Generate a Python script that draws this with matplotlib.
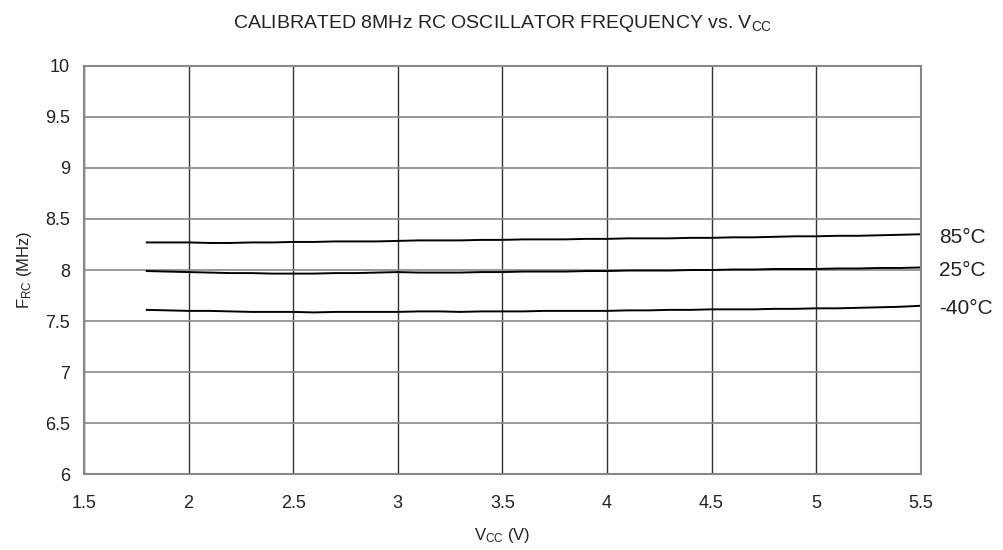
import matplotlib
matplotlib.use("Agg")
import matplotlib.pyplot as plt
import numpy as np

plt.rcParams['font.family'] = ['Liberation Sans', 'DejaVu Sans']

# supply voltage (V)
vcc = [1.8, 1.9, 2.0, 2.1, 2.2, 2.3, 2.4, 2.5, 2.6, 2.7, 2.8, 2.9, 3.0, 3.1, 3.2, 3.3,
       3.4, 3.5, 3.6, 3.7, 3.8, 3.9, 4.0, 4.1, 4.2, 4.3, 4.4, 4.5, 4.6, 4.7, 4.8, 4.9,
       5.0, 5.1, 5.2, 5.3, 5.4, 5.5]

# frequency (MHz) per temperature
f_85 = [8.27, 8.27, 8.27, 8.265, 8.265, 8.27, 8.27, 8.275, 8.275, 8.28, 8.28, 8.28,
        8.285, 8.29, 8.29, 8.29, 8.295, 8.295, 8.30, 8.30, 8.30, 8.305, 8.305, 8.31,
        8.31, 8.31, 8.315, 8.315, 8.32, 8.32, 8.325, 8.33, 8.33, 8.335, 8.335, 8.34,
        8.345, 8.35]
f_25 = [7.99, 7.985, 7.98, 7.975, 7.97, 7.97, 7.965, 7.965, 7.965, 7.97, 7.97, 7.975,
        7.98, 7.975, 7.975, 7.975, 7.98, 7.98, 7.985, 7.985, 7.985, 7.99, 7.99, 7.995,
        7.995, 7.995, 8.0, 8.0, 8.005, 8.005, 8.01, 8.01, 8.01, 8.015, 8.015, 8.02,
        8.02, 8.025]
f_m40 = [7.61, 7.605, 7.60, 7.60, 7.595, 7.59, 7.59, 7.59, 7.585, 7.59, 7.59, 7.59,
         7.59, 7.595, 7.595, 7.59, 7.595, 7.595, 7.595, 7.60, 7.60, 7.60, 7.60, 7.605,
         7.605, 7.61, 7.61, 7.615, 7.615, 7.615, 7.62, 7.62, 7.625, 7.625, 7.63, 7.635,
         7.64, 7.65]

series = [(f_85, "85°C"), (f_25, "25°C"), (f_m40, "-40°C")]

xticks = np.arange(1.5, 5.51, 0.5)
yticks = np.arange(6, 10.01, 0.5)

fig = plt.figure(figsize=(10.04, 5.5), dpi=100)
ax = fig.add_axes([0.0837, 0.1376, 0.8333, 0.7429])

for vals, lab in series:
    ax.plot(vcc, vals, color="black", linewidth=1.4)
    ax.text(5.59, vals[-1] - 0.03, lab, fontsize=15, va="center", ha="left", color="#222222")

ax.set_xlim(1.5, 5.5)
ax.set_ylim(6, 10)
ax.set_xticks(xticks)
ax.set_yticks(yticks)
ax.set_xticklabels([f"{t:g}" for t in xticks])
ax.set_yticklabels([f"{t:g}" for t in yticks])
ax.tick_params(length=0, labelsize=13, colors="#222222")
ax.tick_params(axis="x", pad=15)
ax.tick_params(axis="y", pad=10)
ax.grid(True, axis="x", color="#333333", linewidth=1.0)
ax.grid(True, axis="y", color="#888888", linewidth=1.2)
for s in ax.spines.values():
    s.set_color("#888888")
    s.set_linewidth(1.5)

ax.set_title(r"CALIBRATED 8MHz RC OSCILLATOR FREQUENCY vs. V$\mathregular{_{CC}}$",
             fontsize=14, pad=27, color="#222222")
ax.set_xlabel(r"V$\mathregular{_{CC}}$ (V)", fontsize=12, labelpad=10, color="#222222")
ax.set_ylabel(r"F$\mathregular{_{RC}}$ (MHz)", fontsize=12, labelpad=8, color="#222222")

fig.savefig("out.png", dpi=100)
